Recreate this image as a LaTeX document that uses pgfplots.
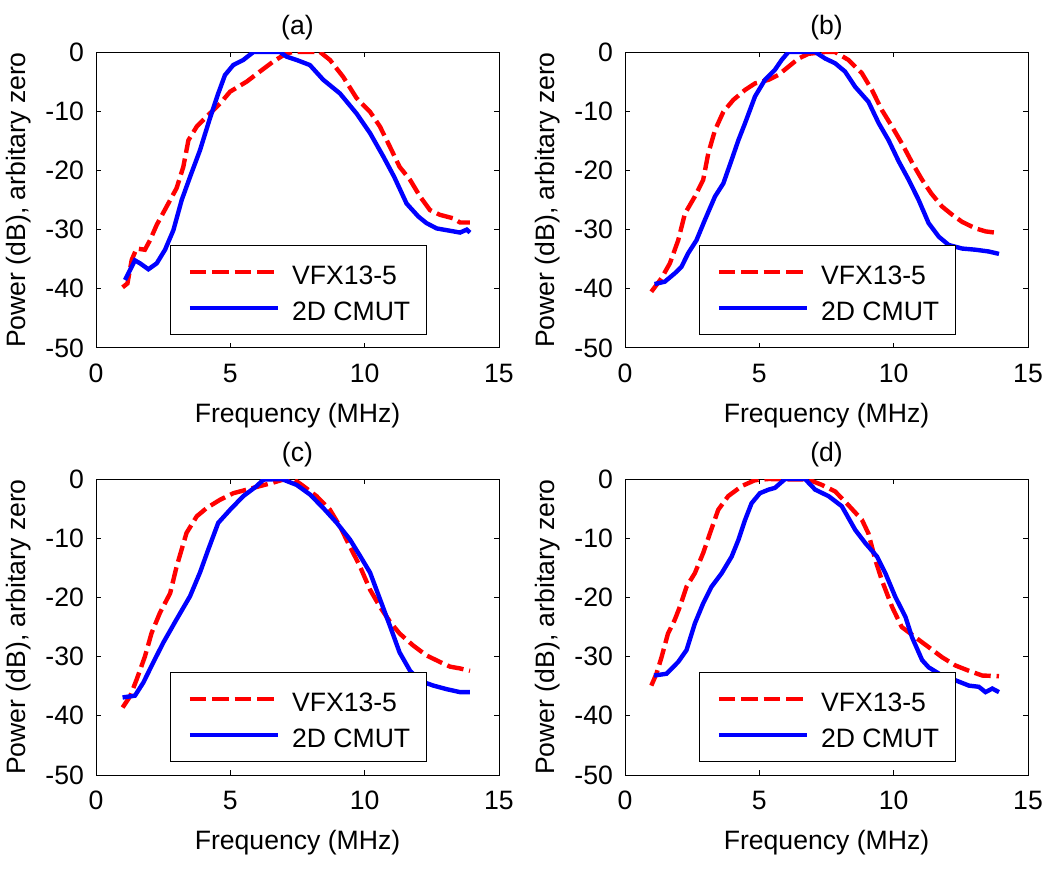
\documentclass[border=0pt]{standalone}
\usepackage{fontspec}
\setmainfont{Liberation Sans}
\usepackage{pgfplots}
\pgfplotsset{compat=1.18}
\newcommand{\lfont}{\fontsize{13.3}{15}\selectfont}
\newcommand{\lent}[1]{\makebox[67pt][l]{\rule[-4.75pt]{0pt}{19pt}#1}}
\pgfplotsset{
  myax/.style={
    scale only axis, width=201.5pt, height=148pt,
    xmin=0, xmax=15, ymin=-50, ymax=0,
    xtick={0,5,10,15}, ytick={-50,-40,-30,-20,-10,0},
    tick align=inside, major tick length=2.5pt,
    axis line style={line width=0.5pt}, every tick/.style={line width=0.5pt, black},
    /pgf/number format/assume math mode=true,
    font=\lfont,
    ticklabel style={font=\lfont},
    xticklabel style={yshift=-4.5pt},
    yticklabel style={xshift=-2.5pt},
    xlabel={Frequency (MHz)},
    ylabel={Power (dB), arbitary zero},
    xlabel style={at={(axis description cs:0.5,-0.229)}, anchor=center},
    ylabel style={at={(axis description cs:-0.193,0.5)}, anchor=center},
    title style={at={(axis description cs:0.5,1.081)}, anchor=center, yshift=-6pt},
    legend style={at={(rel axis cs:0.184,0.044)}, anchor=south west,
      draw=black, line width=0.5pt, fill=white, inner xsep=0pt, inner ysep=5.5pt,
      nodes={inner sep=0pt}, column sep=6pt, row sep=2pt, font=\lfont},
    legend cell align=left,
    legend image code/.code={\path (0pt,0pt); \draw[##1] (8.5pt,0pt) -- (52.5pt,0pt);},
    vfx/.style={red, line width=2.2pt, dash pattern=on 8.3pt off 2.9pt},
    cmut/.style={blue, line width=2.2pt},
  }
}
\begin{document}
\begin{tikzpicture}
% ---------------- (a)
\begin{axis}[myax, at={(48pt,-174pt)}, anchor=south west, title={(a)}]
\addplot[vfx] coordinates {(0.99,-39.75)(1.17,-39.1)(1.33,-35.1)(1.51,-33.2)(1.82,-33.4)(2.01,-31.8)(2.26,-29.2)(2.63,-26.1)(3.0,-23.0)(3.25,-19.4)(3.44,-14.9)(3.75,-12.6)(4.12,-10.9)(4.62,-8.7)(4.99,-6.7)(5.61,-5.0)(6.1,-3.3)(6.6,-1.6)(7.1,-0.2)(7.35,0)(8.34,0)(8.71,-1.35)(9.2,-4.2)(9.7,-7.8)(10.2,-10.1)(10.57,-12.6)(10.94,-16.0)(11.3,-19.4)(11.69,-21.6)(12.06,-24.4)(12.43,-26.7)(12.8,-27.5)(13.3,-28.1)(13.55,-28.8)(13.92,-28.8)};
\addlegendentry{\lent{VFX13-5}}
\addplot[cmut] coordinates {(1.08,-38.5)(1.27,-36.8)(1.45,-35.2)(1.64,-35.7)(1.95,-36.7)(2.26,-35.7)(2.57,-33.4)(2.88,-30.1)(3.19,-25.0)(3.5,-21.1)(3.87,-16.6)(4.24,-11.2)(4.55,-7.0)(4.8,-3.9)(5.11,-2.2)(5.48,-1.35)(5.86,0)(6.85,0)(7.1,-0.8)(7.47,-1.35)(7.96,-2.2)(8.46,-4.7)(9.08,-7.0)(9.7,-10.4)(10.2,-13.7)(10.7,-17.7)(11.1,-21.1)(11.56,-25.6)(12.0,-27.8)(12.3,-28.9)(12.68,-29.8)(13.18,-30.2)(13.55,-30.5)(13.8,-30.0)(13.92,-30.5)};
\addlegendentry{\lent{2D CMUT}}
\end{axis}
% ---------------- (b)
\begin{axis}[myax, at={(312.5pt,-174pt)}, anchor=south west, title={(b)}]
\addplot[vfx] coordinates {(0.98,-40.5)(1.36,-38.2)(1.67,-35.7)(1.98,-31.8)(2.23,-27.3)(2.6,-24.4)(2.91,-21.6)(3.1,-17.1)(3.35,-13.2)(3.66,-10.1)(4.03,-8.1)(4.47,-6.4)(4.84,-5.3)(5.34,-4.7)(5.7,-3.9)(6.08,-2.5)(6.46,-1.1)(6.83,-0.3)(7.45,0)(7.82,0)(8.32,-1.35)(8.82,-3.6)(9.19,-6.4)(9.56,-9.8)(9.94,-12.6)(10.3,-15.4)(10.7,-18.8)(11.06,-21.6)(11.4,-23.9)(11.8,-26.1)(12.18,-27.5)(12.55,-28.7)(13.05,-29.8)(13.42,-30.3)(13.92,-30.6)};
\addlegendentry{\lent{VFX13-5}}
\addplot[cmut] coordinates {(1.1,-39.2)(1.48,-38.8)(1.85,-37.4)(2.1,-36.3)(2.35,-34.0)(2.66,-31.8)(2.97,-28.4)(3.35,-24.4)(3.66,-22.2)(3.97,-18.2)(4.22,-14.9)(4.47,-12.0)(4.84,-7.5)(5.21,-4.7)(5.58,-3.0)(5.83,-1.35)(6.08,0)(7.08,0)(7.45,-1.1)(7.82,-1.9)(8.19,-3.3)(8.57,-5.9)(9.06,-8.4)(9.44,-12.0)(9.81,-14.9)(10.19,-18.5)(10.56,-21.6)(10.93,-25.0)(11.3,-28.9)(11.68,-31.2)(12.05,-32.6)(12.55,-33.2)(13.05,-33.4)(13.54,-33.7)(13.92,-34.1)};
\addlegendentry{\lent{2D CMUT}}
\end{axis}
% ---------------- (c)
\begin{axis}[myax, at={(48pt,-387.5pt)}, anchor=south west, title={(c)}]
\addplot[vfx] coordinates {(0.99,-38.6)(1.27,-36.7)(1.51,-33.9)(1.82,-30.0)(2.07,-26.0)(2.38,-22.6)(2.76,-19.3)(3.0,-14.8)(3.37,-9.1)(3.75,-6.3)(4.12,-4.9)(4.62,-3.5)(5.11,-2.4)(5.61,-1.8)(6.1,-1.2)(6.6,-0.6)(6.97,-0.1)(7.35,0)(7.72,-1.2)(8.21,-2.9)(8.71,-5.2)(9.08,-8.0)(9.45,-11.4)(9.83,-14.8)(10.2,-18.7)(10.57,-21.6)(10.94,-24.1)(11.3,-26.1)(11.8,-28.1)(12.3,-29.8)(12.8,-30.9)(13.18,-31.7)(13.55,-32.0)(13.92,-32.4)};
\addlegendentry{\lent{VFX13-5}}
\addplot[cmut] coordinates {(0.99,-36.9)(1.45,-36.6)(1.76,-34.4)(2.13,-31.0)(2.51,-27.6)(3.0,-23.7)(3.5,-19.8)(3.87,-15.8)(4.18,-11.9)(4.55,-7.4)(4.99,-5.2)(5.48,-2.9)(5.98,-1.2)(6.23,-0.1)(6.91,0)(7.47,-1.0)(7.96,-2.6)(8.46,-4.9)(8.96,-7.4)(9.45,-10.2)(9.83,-13.0)(10.2,-15.8)(10.57,-20.3)(10.94,-24.8)(11.3,-29.3)(11.69,-32.4)(12.06,-34.1)(12.56,-34.9)(13.05,-35.5)(13.55,-36.0)(13.92,-36.0)};
\addlegendentry{\lent{2D CMUT}}
\end{axis}
% ---------------- (d)
\begin{axis}[myax, at={(312.5pt,-387.5pt)}, anchor=south west, title={(d)}]
\addplot[vfx] coordinates {(0.98,-34.9)(1.17,-32.9)(1.36,-30.1)(1.6,-26.1)(1.85,-23.8)(2.04,-21.6)(2.29,-18.2)(2.6,-15.9)(2.91,-12.5)(3.16,-9.2)(3.47,-5.2)(3.84,-2.9)(4.34,-1.2)(4.84,-0.2)(5.34,0)(6.83,-0.1)(7.33,-1.0)(7.82,-2.1)(8.19,-3.8)(8.82,-6.9)(9.06,-9.2)(9.32,-13.7)(9.56,-17.1)(9.94,-21.6)(10.3,-25.0)(10.8,-26.7)(11.3,-28.4)(11.8,-30.1)(12.3,-31.5)(12.8,-32.4)(13.3,-33.2)(13.92,-33.3)};
\addlegendentry{\lent{VFX13-5}}
\addplot[cmut] coordinates {(1.08,-33.2)(1.54,-32.9)(1.98,-30.9)(2.29,-28.9)(2.6,-24.4)(2.91,-21.0)(3.22,-18.2)(3.6,-15.9)(3.97,-13.1)(4.22,-10.3)(4.47,-6.9)(4.71,-4.1)(5.02,-2.4)(5.34,-1.8)(5.58,-1.5)(5.96,0)(6.7,0)(7.08,-1.8)(7.58,-2.9)(8.07,-4.6)(8.57,-8.6)(8.94,-10.8)(9.38,-13.1)(9.69,-15.9)(10.06,-19.9)(10.44,-23.3)(10.68,-26.7)(11.06,-30.6)(11.3,-31.8)(11.8,-33.2)(12.3,-34.0)(12.8,-34.9)(13.17,-35.1)(13.42,-36.0)(13.67,-35.4)(13.92,-36.0)};
\addlegendentry{\lent{2D CMUT}}
\end{axis}
\pgfresetboundingbox
\useasboundingbox (0pt,0pt) rectangle (525pt,-435.5pt);
\end{tikzpicture}
\end{document}
